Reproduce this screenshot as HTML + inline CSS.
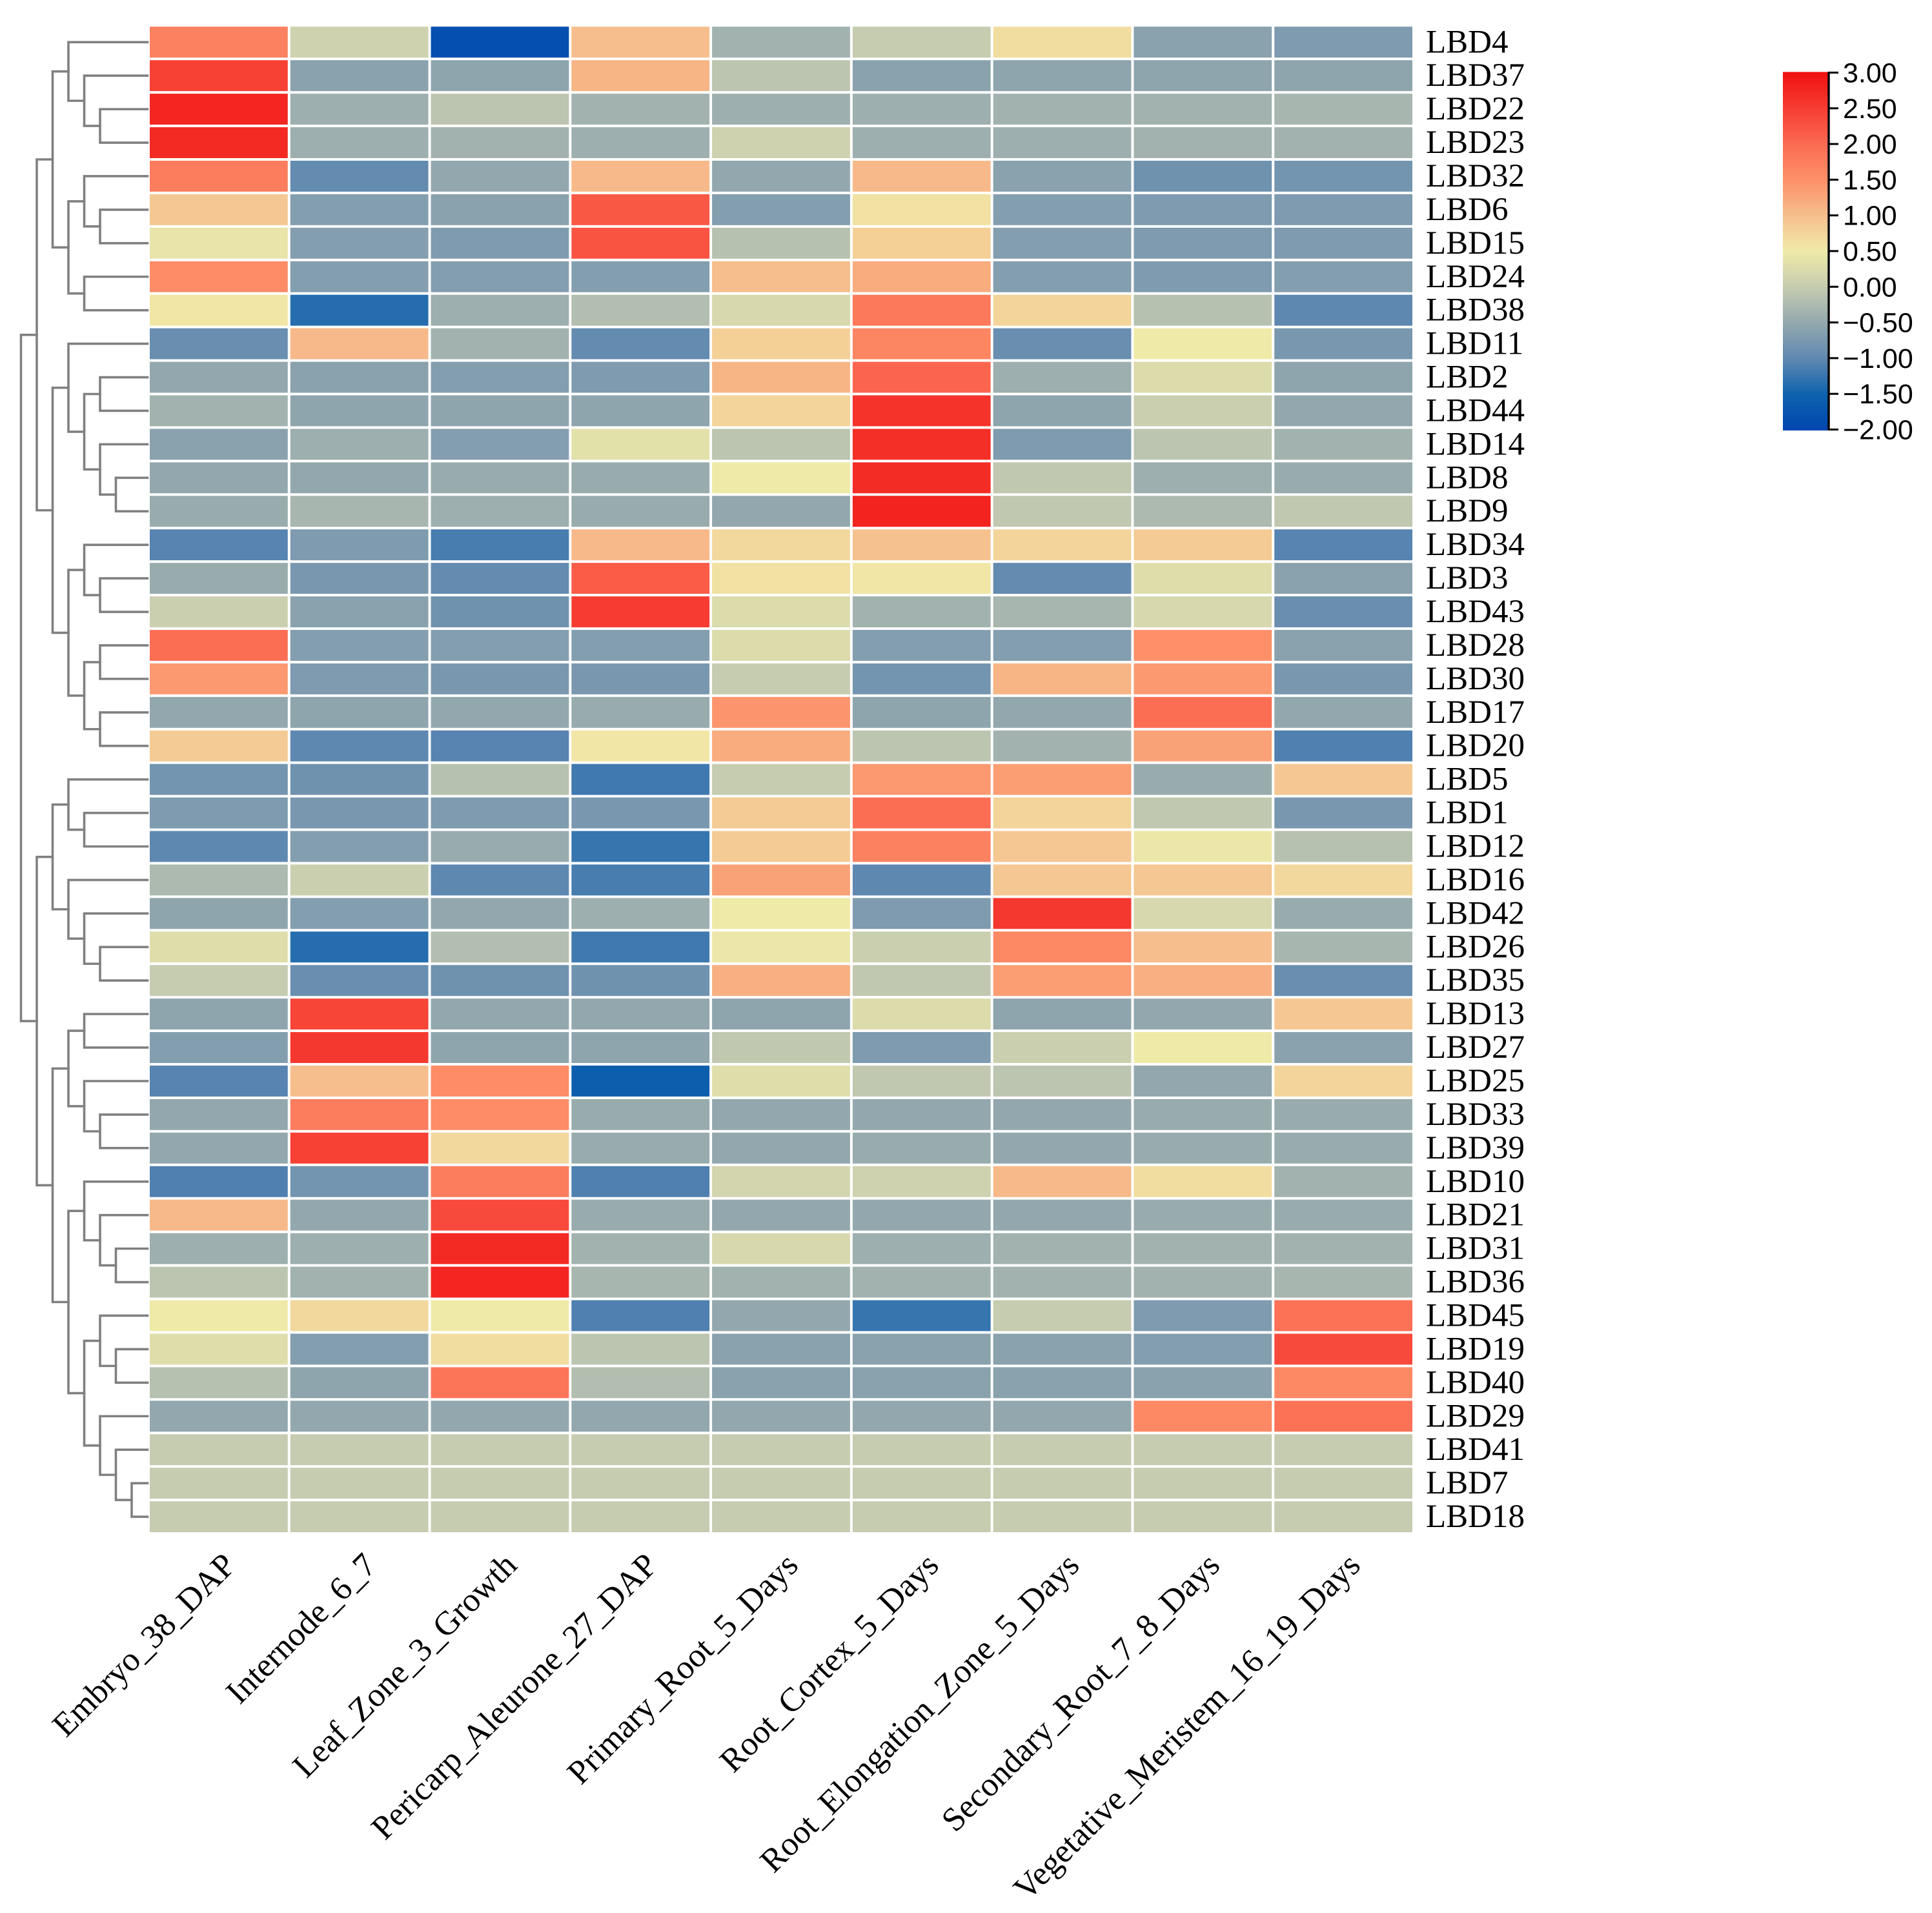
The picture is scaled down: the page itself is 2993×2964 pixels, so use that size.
<!DOCTYPE html>
<html lang="en">
<head>
<meta charset="utf-8">
<title>LBD gene expression heatmap</title>
<style>
html,body{margin:0;padding:0;background:#fff;}
svg{display:block;}
.serif{font-family:"Liberation Serif","Times New Roman",serif;font-size:51px;fill:#000;}
.serif-x{font-family:"Liberation Serif","Times New Roman",serif;font-size:52px;fill:#000;}
.sans{font-family:"Liberation Sans",Arial,sans-serif;font-size:43px;fill:#000;}
</style>
</head>
<body>
<svg id="chart" xmlns="http://www.w3.org/2000/svg" width="2993" height="2964" viewBox="0 0 2993 2964">
  <rect x="0" y="0" width="2993" height="2964" fill="#fff"/>
  <defs><linearGradient id="cbar-gradient" x1="0" y1="1" x2="0" y2="0"></linearGradient></defs>
  <g id="dendrogram" fill="none" stroke="#808080" stroke-width="3.6" stroke-linecap="square"></g>
  <g id="heatmap"></g>
  <g id="row-labels"></g>
  <g id="col-labels"></g>
  <g id="colorbar"></g>
</svg>
<script>
const geneLabels = ["LBD4","LBD37","LBD22","LBD23","LBD32","LBD6","LBD15","LBD24","LBD38","LBD11","LBD2","LBD44","LBD14","LBD8","LBD9","LBD34","LBD3","LBD43","LBD28","LBD30","LBD17","LBD20","LBD5","LBD1","LBD12","LBD16","LBD42","LBD26","LBD35","LBD13","LBD27","LBD25","LBD33","LBD39","LBD10","LBD21","LBD31","LBD36","LBD45","LBD19","LBD40","LBD29","LBD41","LBD7","LBD18"];
const tissueLabels = ["Embryo_38_DAP","Internode_6_7","Leaf_Zone_3_Growth","Pericarp_Aleurone_27_DAP","Primary_Root_5_Days","Root_Cortex_5_Days","Root_Elongation_Zone_5_Days","Secondary_Root_7_8_Days","Vegetative_Meristem_16_19_Days"];
const expression = [
[1.7,0.1,-1.85,1.0,-0.35,0.0,0.65,-0.6,-0.7],
[2.45,-0.6,-0.55,1.1,-0.1,-0.6,-0.55,-0.55,-0.55],
[2.75,-0.4,-0.1,-0.35,-0.4,-0.4,-0.35,-0.35,-0.3],
[2.72,-0.4,-0.35,-0.4,0.1,-0.4,-0.4,-0.35,-0.35],
[1.75,-0.95,-0.5,1.05,-0.5,1.05,-0.6,-0.85,-0.8],
[0.9,-0.65,-0.6,2.2,-0.65,0.6,-0.65,-0.7,-0.7],
[0.4,-0.65,-0.7,2.25,-0.15,0.8,-0.65,-0.7,-0.7],
[1.55,-0.65,-0.65,-0.65,1.0,1.2,-0.65,-0.7,-0.65],
[0.55,-1.35,-0.4,-0.2,0.2,1.8,0.75,-0.15,-1.0],
[-0.9,1.05,-0.35,-0.95,0.8,1.65,-0.9,0.5,-0.75],
[-0.5,-0.6,-0.65,-0.7,1.1,2.05,-0.4,0.25,-0.55],
[-0.35,-0.55,-0.55,-0.55,0.75,2.6,-0.55,0.05,-0.5],
[-0.6,-0.4,-0.65,0.35,-0.1,2.65,-0.7,-0.1,-0.35],
[-0.5,-0.5,-0.45,-0.45,0.5,2.68,-0.05,-0.4,-0.45],
[-0.45,-0.3,-0.4,-0.45,-0.5,2.78,-0.05,-0.25,-0.05],
[-1.05,-0.7,-1.15,1.05,0.7,0.95,0.75,0.85,-1.05],
[-0.45,-0.75,-0.95,2.15,0.6,0.55,-0.95,0.3,-0.6],
[0.05,-0.6,-0.85,2.5,0.25,-0.35,-0.3,0.2,-0.9],
[1.95,-0.65,-0.65,-0.65,0.25,-0.65,-0.65,1.5,-0.6],
[1.4,-0.7,-0.75,-0.75,0.0,-0.8,1.1,1.4,-0.75],
[-0.5,-0.55,-0.5,-0.45,1.45,-0.55,-0.5,1.95,-0.5],
[0.85,-1.0,-1.05,0.55,1.2,-0.1,-0.35,1.3,-1.1],
[-0.8,-0.85,-0.15,-1.2,0.0,1.4,1.35,-0.45,0.9],
[-0.7,-0.75,-0.7,-0.75,0.85,1.95,0.75,-0.05,-0.75],
[-1.0,-0.65,-0.45,-1.25,0.85,1.7,0.9,0.45,-0.15],
[-0.25,0.05,-1.0,-1.15,1.3,-1.0,0.9,0.9,0.7],
[-0.55,-0.65,-0.5,-0.4,0.5,-0.7,2.55,0.2,-0.45],
[0.3,-1.35,-0.2,-1.2,0.45,0.05,1.6,1.0,-0.3],
[0.0,-0.9,-0.85,-0.85,1.15,-0.05,1.35,1.15,-0.9],
[-0.55,2.4,-0.5,-0.5,-0.55,0.25,-0.55,-0.5,0.9],
[-0.65,2.55,-0.55,-0.55,-0.05,-0.7,0.05,0.5,-0.6],
[-1.05,1.0,1.55,-1.55,0.3,-0.05,-0.1,-0.5,0.75],
[-0.5,1.75,1.55,-0.45,-0.5,-0.5,-0.5,-0.45,-0.45],
[-0.5,2.45,0.7,-0.45,-0.5,-0.45,-0.5,-0.45,-0.45],
[-1.1,-0.8,1.75,-1.1,0.15,0.1,1.05,0.65,-0.35],
[1.05,-0.5,2.35,-0.45,-0.5,-0.5,-0.5,-0.45,-0.45],
[-0.4,-0.4,2.72,-0.35,0.2,-0.4,-0.35,-0.35,-0.35],
[-0.1,-0.35,2.75,-0.3,-0.35,-0.35,-0.35,-0.35,-0.3],
[0.5,0.7,0.5,-1.1,-0.5,-1.25,0.0,-0.7,1.9],
[0.3,-0.65,0.65,-0.1,-0.6,-0.6,-0.6,-0.65,2.35],
[-0.15,-0.55,1.85,-0.2,-0.6,-0.6,-0.6,-0.6,1.6],
[-0.5,-0.5,-0.5,-0.5,-0.5,-0.5,-0.5,1.6,1.9],
[0,0,0,0,0,0,0,0,0],
[0,0,0,0,0,0,0,0,0],
[0,0,0,0,0,0,0,0,0]
];
const colorbarTicks = [3,2.5,2,1.5,1,0.5,0,-0.5,-1,-1.5,-2];
const colorbarTickLabels = ["3.00","2.50","2.00","1.50","1.00","0.50","0.00","\u22120.50","\u22121.00","\u22121.50","\u22122.00"];
const colorStopValues = [-2,-1.5,-1,-0.5,0,0.5,1,1.5,2,2.5,3];
const colorStopColors = ["#0047b0","#0e62ae","#5f88b0","#93a8ae","#c6ccb0","#f0eaa8","#f6be8c","#fd9069","#fb6a52","#f63c32","#f01010"];
// Row clustering: each node is [merge level, child, child]; a plain number is a leaf row index.
const rowTree = [8,
  [7,
    [6,
      [5, 0, [4, 1, [3, 2, 3]]],
      [5, [4, 4, [3, 5, 6]], [4, 7, 8]]
    ],
    [6,
      [5, 9, [4, [3, 10, 11], [3, 12, [2, 13, 14]]]],
      [5, [4, 15, [3, 16, 17]], [4, [3, 18, 19], [3, 20, 21]]]
    ]
  ],
  [7,
    [6,
      [5, 22, [4, 23, 24]],
      [5, 25, [4, 26, [3, 27, 28]]]
    ],
    [6,
      [5, [4, 29, 30], [4, 31, [3, 32, 33]]],
      [5,
        [4, 34, [3, 35, [2, 36, 37]]],
        [4, [3, 38, [2, 39, 40]], [3, 41, [2, 42, [1, 43, 44]]]]
      ]
    ]
  ]
];

const NS = "http://www.w3.org/2000/svg";
const gridLeft = 230, gridRight = 2190, gridTop = 39.3, gridBottom = 2376, cellInset = 2;
const colW = (gridRight - gridLeft) / tissueLabels.length;
const rowH = (gridBottom - gridTop) / geneLabels.length;
const xCol = i => gridLeft + i * colW;
const yRow = i => gridTop + i * rowH;

function hexToRgb(h) {
  return [parseInt(h.slice(1,3),16), parseInt(h.slice(3,5),16), parseInt(h.slice(5,7),16)];
}
function colorFor(v) {
  const n = colorStopValues.length;
  if (v <= colorStopValues[0]) return colorStopColors[0];
  if (v >= colorStopValues[n-1]) return colorStopColors[n-1];
  for (let i = 0; i < n-1; i++) {
    if (v <= colorStopValues[i+1]) {
      const t = (v - colorStopValues[i]) / (colorStopValues[i+1] - colorStopValues[i]);
      const a = hexToRgb(colorStopColors[i]), b = hexToRgb(colorStopColors[i+1]);
      return "rgb(" + a.map((c,k) => Math.round(c + (b[k]-c)*t)).join(",") + ")";
    }
  }
}
function mk(tag, parent) {
  const el = document.createElementNS(NS, tag);
  parent.appendChild(el);
  return el;
}

// heatmap cells
const heat = document.getElementById("heatmap");
expression.forEach((row, r) => {
  row.forEach((v, c) => {
    const el = mk("rect", heat);
    el.setAttribute("x", xCol(c) + cellInset);
    el.setAttribute("y", yRow(r) + cellInset);
    el.setAttribute("width", colW - 2*cellInset);
    el.setAttribute("height", rowH - 2*cellInset);
    el.setAttribute("fill", colorFor(v));
    
    
  });
});

// gene labels
const rowLabelGroup = document.getElementById("row-labels");
geneLabels.forEach((name, r) => {
  const el = mk("text", rowLabelGroup);
  el.setAttribute("class", "serif");
  el.setAttribute("x", 2209);
  el.setAttribute("y", yRow(r) + rowH/2 + 16);
  el.textContent = name;
  
  
});

// tissue labels
const colLabelGroup = document.getElementById("col-labels");
tissueLabels.forEach((name, c) => {
  const px = xCol(c) + colW/2 + 29, py = 2428;
  const el = mk("text", colLabelGroup);
  el.setAttribute("class", "serif-x");
  el.setAttribute("text-anchor", "end");
  el.setAttribute("x", px);
  el.setAttribute("y", py);
  el.setAttribute("transform", "rotate(-45 " + px + " " + py + ")");
  el.textContent = name;
  
  
});

// dendrogram
const dendro = document.getElementById("dendrogram");
const levelX = d => 228.5 - 24.5 * d;
function drawNode(node) {
  if (typeof node === "number") return {x: levelX(0), y: yRow(node) + rowH/2};
  const a = drawNode(node[1]), b = drawNode(node[2]);
  const x = levelX(node[0]);
  const p = mk("path", dendro);
  p.setAttribute("d", "M" + a.x + " " + a.y + "H" + x + "V" + b.y + "H" + b.x);
  
  
  return {x: x, y: (a.y + b.y) / 2};
}
drawNode(rowTree);

// colorbar
const cbarLeft = 2762, cbarRight = 2832, cbarTop = 111.5, cbarBottom = 667;
const cbarMin = colorStopValues[0], cbarMax = colorStopValues[colorStopValues.length-1];
const yBar = v => cbarBottom - 1.5 - (v - cbarMin) / (cbarMax - cbarMin) * (cbarBottom - cbarTop - 2.5);
const grad = document.getElementById("cbar-gradient");
colorStopValues.forEach((v, i) => {
  const s = mk("stop", grad);
  s.setAttribute("offset", (v - cbarMin) / (cbarMax - cbarMin));
  s.setAttribute("stop-color", colorStopColors[i]);
});
const cbar = document.getElementById("colorbar");
const ramp = mk("rect", cbar);
ramp.setAttribute("x", cbarLeft);
ramp.setAttribute("y", cbarTop);
ramp.setAttribute("width", cbarRight - cbarLeft);
ramp.setAttribute("height", cbarBottom - cbarTop);
ramp.setAttribute("fill", "url(#cbar-gradient)");


const spine = mk("line", cbar);
spine.setAttribute("x1", cbarRight + 1);
spine.setAttribute("x2", cbarRight + 1);
spine.setAttribute("y1", cbarTop);
spine.setAttribute("y2", cbarBottom);
spine.setAttribute("stroke", "#000");
spine.setAttribute("stroke-width", 3.4);


colorbarTicks.forEach((v, i) => {
  const y = yBar(v);
  const t = mk("line", cbar);
  t.setAttribute("x1", cbarRight);
  t.setAttribute("x2", 2848);
  t.setAttribute("y1", y);
  t.setAttribute("y2", y);
  t.setAttribute("stroke", "#000");
  t.setAttribute("stroke-width", 3);
  
  
  const l = mk("text", cbar);
  l.setAttribute("class", "sans");
  l.setAttribute("x", 2855);
  l.setAttribute("y", y + 15);
  l.textContent = colorbarTickLabels[i];
  
  
});
</script>
</body>
</html>
